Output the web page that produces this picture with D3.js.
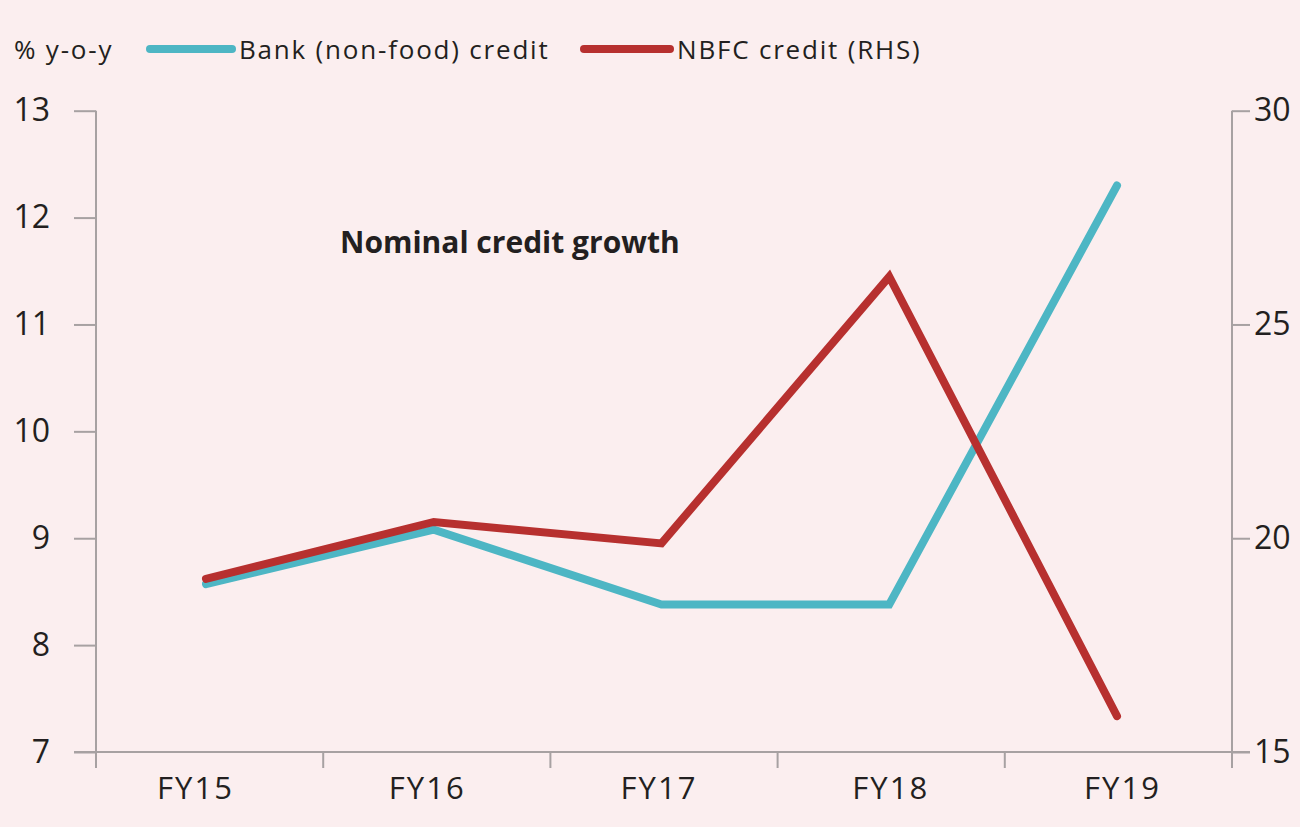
<!DOCTYPE html>
<html>
<head>
<meta charset="utf-8">
<script src="https://cdn.jsdelivr.net/npm/d3@7/dist/d3.min.js"></script>
<style>
  html, body { margin: 0; padding: 0; background: #fbeeef; }
  svg { display: block; }
  text { font-family: "Open Sans", Lato, sans-serif; fill: #231f20; }
</style>
</head>
<body>
<svg id="chart" width="1300" height="827"></svg>
<script>
// Fiscal years on the x axis
const years = ["FY15", "FY16", "FY17", "FY18", "FY19"];
// Bank (non-food) credit growth, % y-o-y (left axis)
const bankCredit = [8.57, 9.08, 8.38, 8.38, 12.3];
// NBFC credit growth, % y-o-y (right axis)
const nbfcCredit = [19.05, 20.38, 19.88, 26.12, 15.84];
// Axis ticks
const leftTicks = [7, 8, 9, 10, 11, 12, 13];
const rightTicks = [15, 20, 25, 30];

(function () {
  const svg = d3.select("#chart");
  const plotLeft = 96, plotRight = 1232, plotTop = 110.7, plotBottom = 752;
  const axisColor = "#a7a1a2";
  const teal = "#4db6c4";
  const red = "#b7302f";

  const xBand = d3.scaleBand().domain(years).range([plotLeft, plotRight]);
  const xPt = d3.scalePoint().domain(years).range([206, 1117]);
  const xLabel = d3.scalePoint().domain(years).range([195.5, 1122.5]);
  const yL = d3.scaleLinear().domain([7, 13]).range([plotBottom, plotTop]);
  const yR = d3.scaleLinear().domain([15, 30]).range([plotBottom, plotTop]);

  // Left axis
  const gL = svg.append("g").attr("transform", `translate(${plotLeft},0)`)
    .call(d3.axisLeft(yL).tickValues(leftTicks).tickSize(22).tickPadding(24).tickFormat(d3.format("d")));
  gL.select(".domain").remove();
  gL.append("line").attr("x1", 0).attr("x2", 0).attr("y1", plotTop).attr("y2", plotBottom + 16)
    .attr("stroke", axisColor).attr("stroke-width", 2);

  // Right axis
  const gR = svg.append("g").attr("transform", `translate(${plotRight},0)`)
    .call(d3.axisRight(yR).tickValues(rightTicks).tickSize(18).tickPadding(4).tickFormat(d3.format("d")));
  gR.select(".domain").remove();
  gR.append("line").attr("x1", 0).attr("x2", 0).attr("y1", plotTop).attr("y2", plotBottom + 16)
    .attr("stroke", axisColor).attr("stroke-width", 2);

  // Bottom axis: ticks at band boundaries
  const gB = svg.append("g").attr("transform", `translate(0,${plotBottom})`);
  gB.append("line").attr("x1", plotLeft - 22).attr("x2", plotRight + 18).attr("y1", 0).attr("y2", 0)
    .attr("stroke", axisColor).attr("stroke-width", 2);
  const boundaries = years.slice(1).map(d => xBand(d));
  gB.selectAll("line.tk").data(boundaries).join("line").attr("class", "tk")
    .attr("x1", d => d).attr("x2", d => d).attr("y1", 0).attr("y2", 16)
    .attr("stroke", axisColor).attr("stroke-width", 2);
  gB.selectAll("text").data(years).join("text")
    .attr("x", d => xLabel(d))
    .attr("y", 47)
    .attr("text-anchor", "middle")
    .attr("font-size", 31)
    .attr("letter-spacing", 2)
    .text(d => d);

  [gL, gR].forEach(g => {
    g.selectAll(".tick line").attr("stroke", axisColor).attr("stroke-width", 2);
    g.selectAll(".tick text").attr("font-size", 32)
      .style("font-family", "\"Open Sans\", sans-serif").attr("fill", "#231f20");
  });

  // Series lines
  const lineBank = d3.line().x((d, i) => xPt(years[i])).y(d => yL(d));
  const lineNbfc = d3.line().x((d, i) => xPt(years[i])).y(d => yR(d));

  svg.append("path").datum(bankCredit).attr("d", lineBank)
    .attr("fill", "none").attr("stroke", teal).attr("stroke-width", 8)
    .attr("stroke-linejoin", "miter").attr("stroke-linecap", "round");
  svg.append("path").datum(nbfcCredit).attr("d", lineNbfc)
    .attr("fill", "none").attr("stroke", red).attr("stroke-width", 8)
    .attr("stroke-linejoin", "miter").attr("stroke-linecap", "round");

  // Annotation
  svg.append("text").attr("x", 340).attr("y", 253)
    .attr("font-size", 30).attr("font-weight", 700)
    .attr("letter-spacing", 0)
    .text("Nominal credit growth");

  // Legend
  const lg = svg.append("g").attr("font-size", 26).attr("letter-spacing", 1.8);
  lg.append("text").attr("x", 14).attr("y", 59).text("% y-o-y");
  const legendItems = [
    { label: "Bank (non-food) credit", color: teal, x0: 150, x1: 232, tx: 239 },
    { label: "NBFC credit (RHS)", color: red, x0: 584, x1: 670, tx: 677 }
  ];
  legendItems.forEach(it => {
    lg.append("line").attr("x1", it.x0).attr("x2", it.x1).attr("y1", 49).attr("y2", 49)
      .attr("stroke", it.color).attr("stroke-width", 8).attr("stroke-linecap", "round");
    lg.append("text").attr("x", it.tx).attr("y", 59).text(it.label);
  });
})();
</script>
</body>
</html>
